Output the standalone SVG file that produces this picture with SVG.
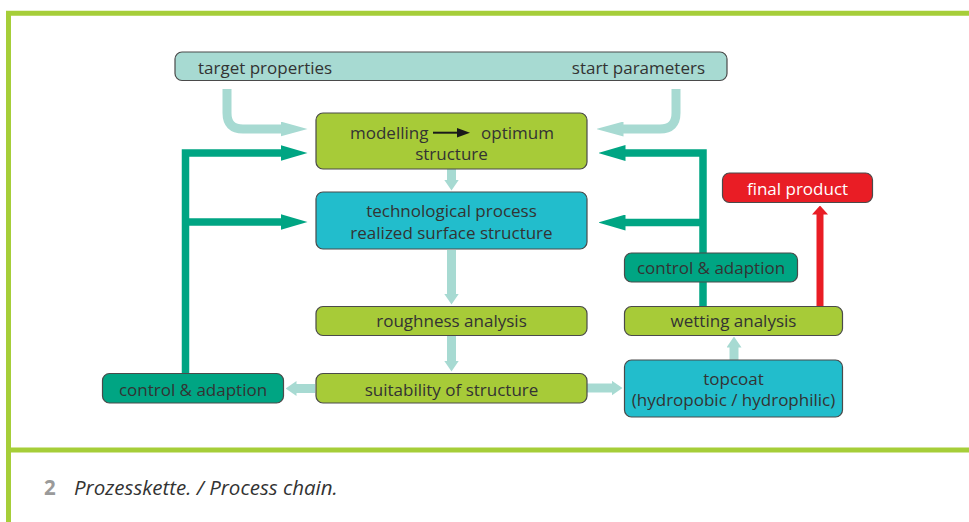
<svg xmlns="http://www.w3.org/2000/svg" width="969" height="522" viewBox="0 0 969 522">
<style>
  text { font-family: "Open Sans", "Noto Sans", "Liberation Sans", sans-serif; font-size: 17px; fill: #333333; }
  .c { text-anchor: middle; }
  .box { stroke: #4a4a4a; stroke-width: 1.2; }
  .lime { fill: #a7cb38; }
  .cyan { fill: #22bdcc; }
  .teal { fill: #a7dad2; }
  .dark { fill: #00a583; }
  .red { fill: #e91d25; }
  .frame { stroke: #a6ce39; stroke-width: 5; fill: none; }
  .lt { stroke: #a7dad2; stroke-width: 9; fill: none; }
  .dk { stroke: #00a583; stroke-width: 7.5; fill: none; stroke-linejoin: miter; }
  .rd { stroke: #e91d25; stroke-width: 7; fill: none; }
  .cap { font-size: 20.5px; }
</style>
<defs>
  <marker id="ltBig" markerUnits="userSpaceOnUse" viewBox="0 0 27 15" refX="0.5" refY="7.5" markerWidth="27" markerHeight="15" orient="auto"><path d="M0,0 L27,7.5 L0,15 z" fill="#a7dad2"/></marker>
  <marker id="ltSmall" markerUnits="userSpaceOnUse" viewBox="0 0 11 15" refX="0.5" refY="7.5" markerWidth="11" markerHeight="15" orient="auto"><path d="M0,0 L11,7.5 L0,15 z" fill="#a7dad2"/></marker>
  <marker id="dkBig" markerUnits="userSpaceOnUse" viewBox="0 0 27 16" refX="0.5" refY="8" markerWidth="27" markerHeight="16" orient="auto"><path d="M0,0 L27,8 L0,16 z" fill="#00a583"/></marker>
  <marker id="rdHead" markerUnits="userSpaceOnUse" viewBox="0 0 9 16" refX="0.5" refY="8" markerWidth="9" markerHeight="16" orient="auto"><path d="M0,0 L9,8 L0,16 z" fill="#e91d25"/></marker>
</defs>
<rect width="969" height="522" fill="#ffffff"/>
<g id="frame">
  <path class="frame" d="M969,13.3 H8.5 V522"/>
  <path class="frame" d="M8.5,450 H969"/>
</g>
<g id="connectors">
  <path class="lt" d="M227,89 V113 Q227,129 243,129 H281" marker-end="url(#ltBig)"/>
  <path class="lt" d="M676,89 V113 Q676,129 660,129 H623" marker-end="url(#ltBig)"/>
  <path class="dk" d="M185.5,374 V153 H281" marker-end="url(#dkBig)"/>
  <path class="dk" d="M185.5,222 H281" marker-end="url(#dkBig)"/>
  <path class="dk" d="M703,306 V153 H625" marker-end="url(#dkBig)"/>
  <path class="dk" d="M703,222.5 H625" marker-end="url(#dkBig)"/>
  <path class="lt" d="M451.5,169 V180" marker-end="url(#ltSmall)"/>
  <path class="lt" d="M451.5,250 V294" marker-end="url(#ltSmall)"/>
  <path class="lt" d="M451.5,336 V361" marker-end="url(#ltSmall)"/>
  <path class="lt" d="M315,388.5 H296" marker-end="url(#ltSmall)"/>
  <path class="lt" d="M587,388 H612" marker-end="url(#ltSmall)"/>
  <path class="lt" d="M734,360 V347" marker-end="url(#ltSmall)"/>
  <path class="rd" d="M820,306 V214" marker-end="url(#rdHead)"/>
</g>
<g id="inputs">
  <rect class="box teal" x="175" y="52" width="552" height="28.5" rx="7"/>
  <text x="198" y="73.5">target properties</text>
  <text x="705" y="73.5" text-anchor="end">start parameters</text>
</g>
<g id="modelling">
  <rect class="box lime" x="316" y="113" width="271" height="56" rx="7"/>
  <text x="350" y="138.5">modelling</text>
  <path d="M433,132.7 H459" stroke="#1a1a1a" stroke-width="2"/>
  <path d="M457,128 L470,132.7 L457,137.4 z" fill="#1a1a1a"/>
  <text x="481" y="138.5">optimum</text>
  <text class="c" x="451.5" y="160">structure</text>
</g>
<g id="technological">
  <rect class="box cyan" x="316" y="192" width="271" height="57" rx="7"/>
  <text class="c" x="451.5" y="217">technological process</text>
  <text class="c" x="451.5" y="239">realized surface structure</text>
</g>
<g id="roughness">
  <rect class="box lime" x="316" y="306.5" width="271" height="29" rx="7"/>
  <text class="c" x="451.5" y="327.3">roughness analysis</text>
</g>
<g id="suitability">
  <rect class="box lime" x="316" y="373.5" width="271" height="29.5" rx="7"/>
  <text class="c" x="451.5" y="395.5">suitability of structure</text>
</g>
<g id="control-left">
  <rect class="box dark" x="102.5" y="373.5" width="181" height="29.5" rx="7"/>
  <text class="c" x="193" y="395.5">control &amp; adaption</text>
</g>
<g id="topcoat">
  <rect class="box cyan" x="624.5" y="360" width="218" height="57" rx="7"/>
  <text class="c" x="733.5" y="385">topcoat</text>
  <text class="c" x="733.5" y="406">(hydropobic / hydrophilic)</text>
</g>
<g id="wetting">
  <rect class="box lime" x="624.5" y="306.5" width="218" height="29" rx="7"/>
  <text class="c" x="733.5" y="327.3">wetting analysis</text>
</g>
<g id="control-right">
  <rect class="box dark" x="624.5" y="253" width="173" height="29" rx="7"/>
  <text class="c" x="711" y="273.5">control &amp; adaption</text>
</g>
<g id="final-product">
  <rect class="box red" x="722.5" y="173" width="150" height="29.5" rx="7"/>
  <text class="c" x="797.5" y="195" style="fill:#ffffff">final product</text>
</g>
<g id="caption">
  <text class="cap" x="44" y="495" style="font-weight:bold;fill:#9a9a9a">2</text>
  <text class="cap" x="74" y="495" style="font-style:italic">Prozesskette. / Process chain.</text>
</g>
</svg>
